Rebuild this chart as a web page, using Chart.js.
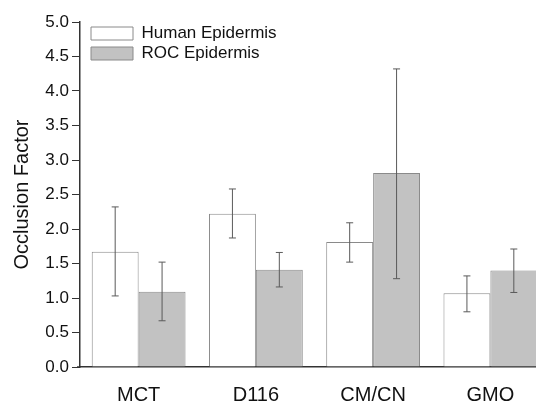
<!DOCTYPE html>
<html>
<head>
<meta charset="utf-8">
<script src="https://cdn.jsdelivr.net/npm/chart.js@4/dist/chart.umd.min.js"></script>
<style>
  html, body { margin: 0; padding: 0; background: #fff; overflow: hidden; }
  #wrap { width: 560px; height: 403px; }
</style>
</head>
<body>
<div id="wrap"><canvas id="occlusion" width="560" height="403"></canvas></div>
<script>
const categories = ['MCT', 'D116', 'CM/CN', 'GMO']
const humanValues = [1.67, 2.22, 1.81, 1.07]
const humanLow = [1.03, 1.87, 1.52, 0.80]
const humanHigh = [2.32, 2.58, 2.09, 1.32]
const rocValues = [1.09, 1.41, 2.81, 1.40]
const rocLow = [0.67, 1.16, 1.28, 1.08]
const rocHigh = [1.52, 1.66, 4.32, 1.71]
const yTicks = [0, 0.5, 1.0, 1.5, 2.0, 2.5, 3.0, 3.5, 4.0, 4.5, 5.0]

function isMajor(v) {
    return yTicks.some(t => Math.abs(t - v) < 1e-6)
}

// error bars drawn from the low/high arrays through the y scale
const errorBars = {
    id: 'errorBars',
    afterLayout(chart) {
        // legend sits inside the plot, top left
        chart.legend.left = chart.chartArea.left + 8
        chart.legend.top = 22
    },
    afterDatasetsDraw(chart) {
        const ctx = chart.ctx
        const y = chart.scales.y
        chart.data.datasets.forEach(function(ds, i) {
            const meta = chart.getDatasetMeta(i)
            meta.data.forEach(function(bar, j) {
                const top = y.getPixelForValue(ds.errHigh[j])
                const bottom = y.getPixelForValue(ds.errLow[j])
                ctx.save()
                ctx.strokeStyle = '#5a5a5a'
                ctx.lineWidth = 1
                ctx.beginPath()
                ctx.moveTo(bar.x, top)
                ctx.lineTo(bar.x, bottom)
                ctx.moveTo(bar.x - 3.5, top)
                ctx.lineTo(bar.x + 3.5, top)
                ctx.moveTo(bar.x - 3.5, bottom)
                ctx.lineTo(bar.x + 3.5, bottom)
                ctx.stroke()
                ctx.restore()
            })
        })
        // minor ticks, shorter than the major ones
        const left = chart.chartArea.left
        ctx.save()
        ctx.strokeStyle = '#333'
        ctx.lineWidth = 1
        ctx.beginPath()
        y.ticks.forEach(function(t) {
            if (!isMajor(t.value)) {
                const py = Math.round(y.getPixelForValue(t.value)) + 0.5
                ctx.moveTo(left - 4, py)
                ctx.lineTo(left, py)
            }
        })
        // x axis line runs a little past the y axis
        const base = chart.chartArea.bottom
        ctx.lineWidth = 1.5
        ctx.moveTo(left - 3, base)
        ctx.lineTo(left, base)
        ctx.stroke()
        ctx.restore()
    }
}

new Chart(document.getElementById('occlusion'), {
    type: 'bar',
    data: {
        labels: categories,
        datasets: [{
            label: 'Human Epidermis',
            data: humanValues,
            errLow: humanLow,
            errHigh: humanHigh,
            backgroundColor: '#ffffff',
            borderColor: '#8a8a8a',
            borderWidth: 1
        }, {
            label: 'ROC Epidermis',
            data: rocValues,
            errLow: rocLow,
            errHigh: rocHigh,
            backgroundColor: '#c2c2c2',
            borderColor: '#8a8a8a',
            borderWidth: 1
        }]
    },
    options: {
        responsive: false,
        animation: false,
        layout: { padding: { top: 22, right: 11, left: 0, bottom: 0 } },
        datasets: { bar: { categoryPercentage: 0.8, barPercentage: 1.0 } },
        plugins: {
            tooltip: { enabled: false },
            legend: {
                position: 'chartArea',
                align: 'start',
                labels: {
                    boxWidth: 42,
                    boxHeight: 13,
                    padding: 3,
                    color: '#111',
                    font: { family: 'Liberation Sans', size: 17 }
                }
            }
        },
        scales: {
            x: {
                grid: { display: false, drawTicks: false },
                border: { color: '#333', width: 1.5 },
                ticks: {
                    color: '#111',
                    padding: 16,
                    font: { family: 'Liberation Sans', size: 20 }
                },
                afterFit: function(scale) { scale.height = 36 }
            },
            y: {
                min: 0,
                max: 5,
                afterBuildTicks: function(scale) {
                    const t = []
                    for (let v = 0; v <= 20; v++) t.push({ value: v * 0.25 })
                    scale.ticks = t
                },
                grid: {
                    drawOnChartArea: false,
                    tickLength: 8,
                    color: function(c) { return isMajor(c.tick.value) ? '#333' : 'rgba(0,0,0,0)' }
                },
                border: { color: '#333', width: 1.5 },
                ticks: {
                    color: '#111',
                    padding: 3,
                    font: { family: 'Liberation Sans', size: 17 },
                    callback: function(value) {
                        return isMajor(value) ? value.toFixed(1) : ''
                    }
                },
                title: {
                    display: true,
                    text: 'Occlusion Factor',
                    color: '#111',
                    padding: { top: 10, bottom: 0 },
                    font: { family: 'Liberation Sans', size: 20 }
                },
                afterFit: function(scale) { scale.width = 80 }
            }
        }
    },
    plugins: [errorBars]
})
</script>
</body>
</html>
